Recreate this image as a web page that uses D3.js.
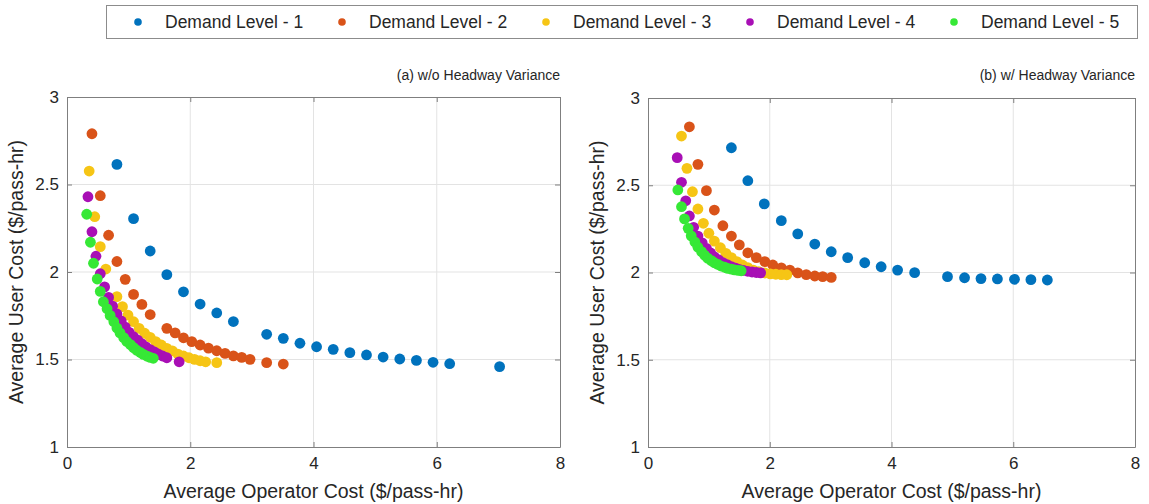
<!DOCTYPE html>
<html>
<head>
<meta charset="utf-8">
<script src="https://cdn.jsdelivr.net/npm/d3@7"></script>
<style>
  html, body { margin: 0; padding: 0; background: #fff; }
  svg { display: block; font-family: "Liberation Sans", Arial, Helvetica, sans-serif; }
</style>
</head>
<body>
<svg id="chart" width="1149" height="504"></svg>
<script>
// Demand levels and their marker colours
const levels = ["Demand Level - 1", "Demand Level - 2", "Demand Level - 3", "Demand Level - 4", "Demand Level - 5"];
const colors = ["#0072BD", "#D95319", "#F6C515", "#A80FB5", "#36E836"];

const xTicks = [0, 2, 4, 6, 8];
const yTicks = [1, 1.5, 2, 2.5, 3];

const titleA = "(a) w/o Headway Variance";
const titleB = "(b) w/ Headway Variance";
const xLabel = "Average Operator Cost ($/pass-hr)";
const yLabel = "Average User Cost ($/pass-hr)";

// (a) without headway variance: operator cost (x) and user cost (y)
const opCostA1 = [0.81, 1.08, 1.35, 1.62, 1.89, 2.16, 2.43, 2.70, 3.24, 3.51, 3.78, 4.05, 4.32, 4.59, 4.86, 5.13, 5.40, 5.67, 5.94, 6.21, 7.02];
const userCostA1 = [2.615, 2.305, 2.12, 1.985, 1.887, 1.817, 1.766, 1.717, 1.644, 1.621, 1.593, 1.573, 1.558, 1.539, 1.526, 1.514, 1.503, 1.495, 1.484, 1.476, 1.459];

const opCostA2 = [0.405, 0.54, 0.675, 0.81, 0.945, 1.08, 1.215, 1.35, 1.62, 1.755, 1.89, 2.025, 2.16, 2.295, 2.43, 2.565, 2.70, 2.835, 2.97, 3.24, 3.51];
const userCostA2 = [2.79, 2.436, 2.21, 2.06, 1.958, 1.872, 1.815, 1.757, 1.678, 1.652, 1.624, 1.602, 1.583, 1.565, 1.55, 1.535, 1.521, 1.512, 1.501, 1.482, 1.474];

const opCostA3 = [0.36, 0.45, 0.54, 0.63, 0.81, 0.90, 0.99, 1.08, 1.17, 1.26, 1.35, 1.44, 1.53, 1.62, 1.71, 1.80, 1.89, 1.98, 2.07, 2.16, 2.25, 2.43];
const userCostA3 = [2.577, 2.316, 2.145, 2.017, 1.859, 1.802, 1.754, 1.716, 1.678, 1.650, 1.627, 1.602, 1.583, 1.564, 1.549, 1.531, 1.52, 1.51, 1.501, 1.493, 1.487, 1.482];

const opCostA4 = [0.34, 0.405, 0.47, 0.54, 0.61, 0.675, 0.74, 0.81, 0.88, 0.945, 1.01, 1.08, 1.15, 1.215, 1.28, 1.35, 1.42, 1.485, 1.55, 1.62, 1.82];
const userCostA4 = [2.43, 2.23, 2.09, 1.99, 1.915, 1.855, 1.805, 1.76, 1.72, 1.685, 1.655, 1.63, 1.61, 1.59, 1.572, 1.557, 1.543, 1.53, 1.52, 1.51, 1.487];

const opCostA5 = [0.32, 0.38, 0.43, 0.49, 0.54, 0.59, 0.65, 0.70, 0.76, 0.81, 0.86, 0.92, 0.97, 1.03, 1.08, 1.13, 1.19, 1.24, 1.30, 1.35, 1.40];
const userCostA5 = [2.33, 2.17, 2.05, 1.96, 1.889, 1.83, 1.79, 1.752, 1.716, 1.68, 1.652, 1.625, 1.603, 1.585, 1.568, 1.553, 1.54, 1.529, 1.519, 1.512, 1.507];

// (b) with headway variance
const opCostB1 = [1.37, 1.64, 1.91, 2.19, 2.46, 2.74, 3.01, 3.28, 3.56, 3.83, 4.10, 4.38, 4.92, 5.20, 5.47, 5.74, 6.02, 6.29, 6.56];
const userCostB1 = [2.715, 2.526, 2.393, 2.297, 2.221, 2.163, 2.119, 2.085, 2.056, 2.033, 2.014, 1.999, 1.976, 1.970, 1.965, 1.963, 1.961, 1.959, 1.957];

const opCostB2 = [0.68, 0.82, 0.96, 1.09, 1.23, 1.37, 1.50, 1.64, 1.78, 1.92, 2.05, 2.19, 2.33, 2.46, 2.60, 2.74, 2.87, 3.01];
const userCostB2 = [2.835, 2.62, 2.469, 2.358, 2.268, 2.209, 2.158, 2.113, 2.085, 2.062, 2.043, 2.027, 2.014, 1.998, 1.988, 1.98, 1.976, 1.972];

const opCostB3 = [0.55, 0.64, 0.73, 0.82, 0.91, 1.00, 1.09, 1.19, 1.28, 1.37, 1.46, 1.55, 1.64, 1.73, 1.82, 1.92, 2.01, 2.10, 2.19, 2.28];
const userCostB3 = [2.782, 2.597, 2.463, 2.364, 2.282, 2.225, 2.18, 2.142, 2.11, 2.085, 2.062, 2.043, 2.028, 2.014, 2.005, 1.997, 1.992, 1.99, 1.988, 1.987];

const opCostB4 = [0.48, 0.55, 0.62, 0.68, 0.75, 0.82, 0.89, 0.96, 1.03, 1.09, 1.16, 1.23, 1.30, 1.37, 1.44, 1.50, 1.57, 1.64, 1.71, 1.78, 1.85];
const userCostB4 = [2.658, 2.517, 2.411, 2.324, 2.259, 2.209, 2.17, 2.138, 2.112, 2.09, 2.072, 2.057, 2.045, 2.034, 2.025, 2.018, 2.012, 2.007, 2.003, 2.0, 1.998];

const opCostB5 = [0.49, 0.55, 0.60, 0.66, 0.71, 0.77, 0.82, 0.88, 0.93, 0.98, 1.04, 1.09, 1.15, 1.20, 1.26, 1.31, 1.37, 1.42, 1.48, 1.53];
const userCostB5 = [2.473, 2.377, 2.307, 2.253, 2.21, 2.175, 2.145, 2.12, 2.099, 2.082, 2.068, 2.056, 2.046, 2.037, 2.03, 2.024, 2.019, 2.015, 2.012, 2.01];

const seriesA = [[opCostA1, userCostA1], [opCostA2, userCostA2], [opCostA3, userCostA3], [opCostA4, userCostA4], [opCostA5, userCostA5]];
const seriesB = [[opCostB1, userCostB1], [opCostB2, userCostB2], [opCostB3, userCostB3], [opCostB4, userCostB4], [opCostB5, userCostB5]];

const svg = d3.select("#chart");
const font = "\"Liberation Sans\", Arial, Helvetica, sans-serif";

function drawPanel(box, title, series) {
  const x = d3.scaleLinear().domain([0, 8]).range([box.left, box.right]);
  const y = d3.scaleLinear().domain([1, 3]).range([box.bottom, box.top]);
  const g = svg.append("g");

  // background and grid
  g.append("rect").attr("x", box.left).attr("y", box.top)
    .attr("width", box.right - box.left).attr("height", box.bottom - box.top)
    .attr("fill", "#fff");
  g.append("g").selectAll("line").data(xTicks.slice(1, -1)).join("line")
    .attr("x1", d => x(d)).attr("x2", d => x(d))
    .attr("y1", box.top).attr("y2", box.bottom)
    .attr("stroke", "#e3e3e3").attr("stroke-width", 1);
  g.append("g").selectAll("line").data(yTicks.slice(1, -1)).join("line")
    .attr("x1", box.left).attr("x2", box.right)
    .attr("y1", d => y(d)).attr("y2", d => y(d))
    .attr("stroke", "#e3e3e3").attr("stroke-width", 1);

  // scatter points, level 1 first so level 5 ends on top
  series.forEach(([xs, ys], i) => {
    g.append("g").selectAll("circle").data(xs.map((v, k) => [v, ys[k]])).join("circle")
      .attr("cx", d => x(d[0])).attr("cy", d => y(d[1]))
      .attr("r", 5.4).attr("fill", colors[i]);
  });

  // axes with inward ticks on all four sides
  const axisColor = "#7f7f7f";
  const fmt = d => String(d);
  const bottom = g.append("g").attr("transform", `translate(0,${box.bottom})`)
    .call(d3.axisBottom(x).tickValues(xTicks).tickFormat(fmt).tickSizeInner(-5).tickSizeOuter(0).tickPadding(10));
  const left = g.append("g").attr("transform", `translate(${box.left},0)`)
    .call(d3.axisLeft(y).tickValues(yTicks).tickFormat(fmt).tickSizeInner(-5).tickSizeOuter(0).tickPadding(8));
  const top = g.append("g").attr("transform", `translate(0,${box.top})`)
    .call(d3.axisTop(x).tickValues(xTicks).tickFormat("").tickSizeInner(-5).tickSizeOuter(0));
  const right = g.append("g").attr("transform", `translate(${box.right},0)`)
    .call(d3.axisRight(y).tickValues(yTicks).tickFormat("").tickSizeInner(-5).tickSizeOuter(0));
  [bottom, left, top, right].forEach(a => {
    a.select(".domain").attr("stroke", axisColor);
    a.selectAll(".tick line").attr("stroke", axisColor);
    a.selectAll("text").attr("fill", "#262626").style("font-size", "17px").style("font-family", font);
  });

  // axis labels
  g.append("text").attr("x", (box.left + box.right) / 2).attr("y", 498)
    .attr("text-anchor", "middle").attr("fill", "#262626")
    .style("font-size", "19.5px").style("font-family", font).text(xLabel);
  g.append("text")
    .attr("transform", `translate(${box.left - 44},${(box.top + box.bottom) / 2}) rotate(-90)`)
    .attr("text-anchor", "middle").attr("fill", "#262626")
    .style("font-size", "19.5px").style("font-family", font).text(yLabel);

  // panel title, right aligned with the plot frame
  g.append("text").attr("x", box.right).attr("y", 80)
    .attr("text-anchor", "end").attr("fill", "#262626")
    .style("font-size", "14px").style("font-family", font).text(title);
}

drawPanel({ left: 67, right: 560, top: 97, bottom: 447 }, titleA, seriesA);
drawPanel({ left: 648, right: 1135, top: 98, bottom: 447 }, titleB, seriesB);

// legend across the top
const legend = svg.append("g");
legend.append("rect").attr("x", 106.5).attr("y", 5.5).attr("width", 1031).attr("height", 33)
  .attr("fill", "#fff").attr("stroke", "#8c8c8c").attr("stroke-width", 1);
const items = legend.selectAll("g.item").data(levels).join("g").attr("class", "item")
  .attr("transform", (d, i) => `translate(${138 + i * 204},22)`);
items.append("circle").attr("r", 3.8).attr("fill", (d, i) => colors[i]);
items.append("text").attr("x", 27).attr("y", 6).attr("fill", "#262626")
  .style("font-size", "17.5px").style("font-family", font).text(d => d);
</script>
</body>
</html>
